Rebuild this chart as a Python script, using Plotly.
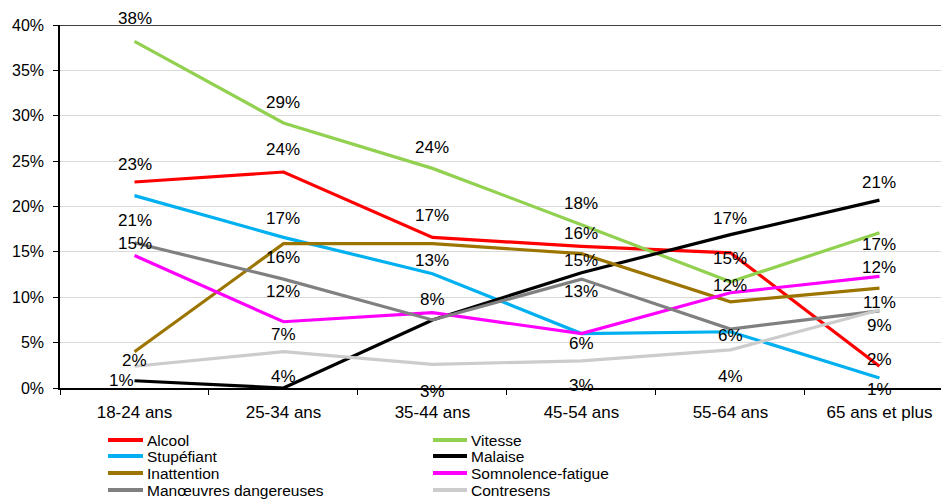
import plotly.graph_objects as go

# Age groups (x axis)
age_groups = ["18-24 ans", "25-34 ans", "35-44 ans", "45-54 ans", "55-64 ans", "65 ans et plus"]

# Share of drivers per cause, in percent
alcool = [22.7, 23.8, 16.6, 15.6, 14.9, 2.4]
vitesse = [38.2, 29.2, 24.2, 18.0, 11.7, 17.1]
stupefiant = [21.2, 16.6, 12.6, 6.0, 6.2, 1.1]
malaise = [0.8, 0.0, 7.5, 12.7, 16.9, 20.7]
inattention = [4.0, 15.9, 15.9, 14.8, 9.5, 11.0]
somnolence = [14.6, 7.3, 8.3, 6.0, 10.5, 12.3]
manoeuvres = [16.0, 12.0, 7.5, 12.0, 6.5, 8.5]
contresens = [2.4, 4.0, 2.6, 3.0, 4.2, 8.6]

y_ticks = [0, 5, 10, 15, 20, 25, 30, 35, 40]

series = [
    ("Alcool", alcool, "#FF0000"),
    ("Vitesse", vitesse, "#92D050"),
    ("Stupéfiant", stupefiant, "#00B0F0"),
    ("Malaise", malaise, "#000000"),
    ("Inattention", inattention, "#9C7400"),
    ("Somnolence-fatigue", somnolence, "#FF00FF"),
    ("Manœuvres dangereuses", manoeuvres, "#808080"),
    ("Contresens", contresens, "#CCCCCC"),
]

# Vertical pixel shift of each value label (None = no label shown)
label_shift = {
    "Alcool": [18, 23, 22, 13, -6, 7],
    "Vitesse": [23, 21, 21, 21, -4, -12],
    "Stupéfiant": [-25, 19, 13, -10, -4, -11],
    "Malaise": [0, None, None, -19, 16, 18],
    "Inattention": [None, -14, None, -7, None, -14],
    "Somnolence-fatigue": [12, -13, 13, None, None, 9],
    "Manœuvres dangereuses": [None, -12, None, None, None, None],
    "Contresens": [6, -25, -27, -25, -27, -16],
}
label_xshift = {"Malaise": [-13, 0, 0, 0, 0, 0]}

FONT = "Arial, Liberation Sans, sans-serif"

fig = go.Figure()
annotations = []
shapes = []

for name, values, color in series:
    fig.add_trace(go.Scatter(
        x=age_groups, y=values, mode="lines", name=name,
        line=dict(color=color, width=3.2),
        cliponaxis=False, showlegend=False,
    ))
    for i, v in enumerate(values):
        shift = label_shift[name][i]
        if shift is None:
            continue
        xs = label_xshift.get(name, [0] * len(values))[i]
        annotations.append(dict(
            x=age_groups[i], y=v, xref="x", yref="y",
            text=f"{v:.0f}%", showarrow=False,
            yshift=shift, xshift=xs,
            font=dict(family=FONT, size=17, color="#000000"),
        ))

# Two-column legend below the plot
plot_left, plot_w = 60, 881
plot_bottom, plot_h = 388, 363
row_y = [440, 456, 473, 490]
col_x = [(108, 143, 146), (433, 467, 470)]
for k, (name, values, color) in enumerate(series):
    row, col = k // 2, k % 2
    x0, x1, xt = col_x[col]
    py = (plot_bottom - row_y[row]) / plot_h
    shapes.append(dict(
        type="line", xref="paper", yref="paper",
        x0=(x0 - plot_left) / plot_w, x1=(x1 - plot_left) / plot_w,
        y0=py, y1=py, line=dict(color=color, width=4),
    ))
    annotations.append(dict(
        x=(xt - plot_left) / plot_w, y=py, xref="paper", yref="paper",
        xanchor="left", yanchor="middle", text=name, showarrow=False,
        font=dict(family=FONT, size=15.5, color="#000000"),
        borderpad=0,
    ))

# Top border of the plot area
shapes.append(dict(
    type="line", xref="paper", yref="y", x0=0, x1=1, y0=40, y1=40,
    line=dict(color="#000000", width=1.5),
))

fig.update_layout(
    width=941, height=500,
    margin=dict(l=60, r=0, t=25, b=112),
    paper_bgcolor="white", plot_bgcolor="white",
    font=dict(family=FONT, size=17, color="#000000"),
    annotations=annotations, shapes=shapes,
    showlegend=False,
)

fig.update_xaxes(
    type="category", range=[-0.5, 5.413],
    showline=True, linecolor="#000000", linewidth=1.5,
    ticks="outside", tickson="boundaries", ticklen=5, tickcolor="#000000",
    ticklabelstandoff=8, showgrid=False,
    tickfont=dict(family=FONT, size=17),
)
fig.update_yaxes(
    range=[0, 40], tickvals=y_ticks, ticktext=[f"{t}%" for t in y_ticks],
    showline=True, linecolor="#000000", linewidth=1.5,
    ticks="outside", ticklen=5, tickcolor="#000000",
    ticklabelstandoff=6,
    showgrid=True, gridcolor="#D9D9D9", gridwidth=1, zeroline=False,
    tickfont=dict(family=FONT, size=16),
)

fig.write_html("out.html")
